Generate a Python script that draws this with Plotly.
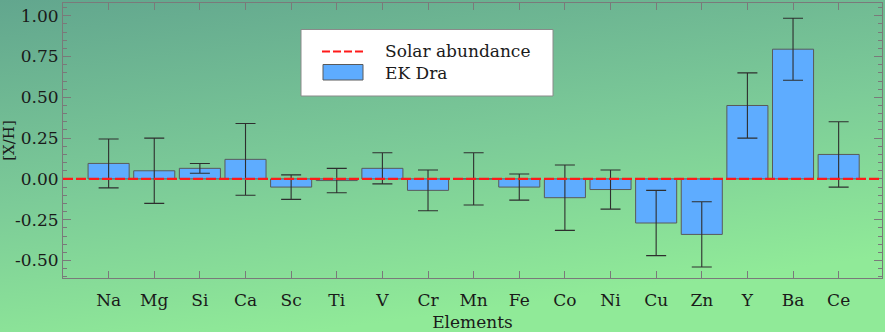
import base64
import plotly.graph_objects as go

# Abundance ratios [X/H] of EK Dra relative to the Sun
elements = ["Na", "Mg", "Si", "Ca", "Sc", "Ti", "V", "Cr", "Mn", "Fe",
            "Co", "Ni", "Cu", "Zn", "Y", "Ba", "Ce"]
abundance = [0.095, 0.05, 0.065, 0.12, -0.05, -0.01, 0.065, -0.07, 0.0, -0.05,
             -0.115, -0.065, -0.27, -0.34, 0.45, 0.795, 0.15]
abundance_err = [0.15, 0.20, 0.03, 0.22, 0.075, 0.075, 0.095, 0.125, 0.16, 0.08,
                 0.20, 0.12, 0.20, 0.20, 0.20, 0.19, 0.20]
solar_level = 0.0
y_ticks = [-0.50, -0.25, 0.00, 0.25, 0.50, 0.75, 1.00]

W, H = 885, 332
L, R, T, B = 63, 882, 3, 278  # plot area edges in pixels

FONT = "DejaVu Serif"
BAR_FILL = "#5eacff"
BAR_EDGE = "#5a5a5a"
AXIS_GREY = "#7a7a7a"


def px(xp):
    return (xp - L) / (R - L)


def py(yp):
    return (B - yp) / (B - T)


positions = list(range(len(elements)))

fig = go.Figure()
fig.add_trace(go.Bar(
    x=positions, y=abundance, width=0.9,
    marker=dict(color=BAR_FILL, line=dict(color=BAR_EDGE, width=1)),
    error_y=dict(type="data", array=abundance_err, color="#2e2e2e",
                 thickness=1.1, width=10),
    name="EK Dra", showlegend=False,
))

# Solar reference level
fig.add_shape(type="line", xref="x domain", yref="y", x0=0, x1=1,
              y0=solar_level, y1=solar_level,
              line=dict(color="#ff1a1a", width=2.2, dash="10px,3px"), layer="above")

# Legend box
fig.add_shape(type="rect", xref="paper", yref="paper",
              x0=px(301), x1=px(553), y0=py(96), y1=py(29.5),
              line=dict(color="#8a8a8a", width=1), fillcolor="white", layer="above")
fig.add_shape(type="line", xref="paper", yref="paper",
              x0=px(322), x1=px(363), y0=py(51.5), y1=py(51.5),
              line=dict(color="#ff1a1a", width=2, dash="8px,3px"), layer="above")
fig.add_shape(type="rect", xref="paper", yref="paper",
              x0=px(323), x1=px(363), y0=py(80), y1=py(64.5),
              line=dict(color=BAR_EDGE, width=1), fillcolor=BAR_FILL, layer="above")
for label, yc in [("Solar abundance", 51), ("EK Dra", 73)]:
    fig.add_annotation(text=label, xref="paper", yref="paper", x=px(383), y=py(yc),
                       xanchor="left", yanchor="middle", showarrow=False,
                       font=dict(family=FONT, size=17, color="#1a1a1a"))

# Green gradient page background
svg = f"""<svg xmlns='http://www.w3.org/2000/svg' width='{W}' height='{H}' viewBox='0 0 {W} {H}' preserveAspectRatio='none'>
<defs><linearGradient id='g' x1='0' y1='0' x2='0.35' y2='1'>
<stop offset='0' stop-color='#62a68e'/>
<stop offset='0.55' stop-color='#7ccb98'/>
<stop offset='1' stop-color='#90ea98'/>
</linearGradient></defs>
<rect width='{W}' height='{H}' fill='url(#g)'/></svg>"""
bg_uri = "data:image/svg+xml;base64," + base64.b64encode(svg.encode()).decode()
fig.add_layout_image(source=bg_uri, xref="paper", yref="paper",
                     x=-L / (R - L), y=1 + T / (B - T),
                     sizex=W / (R - L), sizey=H / (B - T),
                     xanchor="left", yanchor="top", sizing="stretch", layer="below")

fig.update_layout(
    width=W, height=H,
    margin=dict(l=L, r=W - R, t=T, b=H - B, pad=0, autoexpand=False),
    paper_bgcolor="rgba(0,0,0,0)", plot_bgcolor="white",
    font=dict(family=FONT, size=17, color="#1a1a1a"),
    showlegend=False, bargap=0.1,
)
fig.update_xaxes(
    automargin=False,
    range=[-1, 16.95], tickmode="array", tickvals=positions, ticktext=elements,
    ticks="inside", ticklen=7, tickcolor=AXIS_GREY, tickwidth=1,
    showline=True, linecolor=AXIS_GREY, linewidth=1, mirror="ticks",
    showgrid=False, zeroline=False, ticklabelstandoff=7,
    title=dict(text="Elements", standoff=8, font=dict(family=FONT, size=17)),
    tickfont=dict(family=FONT, size=17),
)
fig.update_yaxes(
    automargin=False,
    range=[-0.607, 1.078], tickmode="array", tickvals=y_ticks,
    ticktext=[f"{v:.2f}" for v in y_ticks],
    ticks="inside", ticklen=8, tickcolor=AXIS_GREY, tickwidth=1,
    minor=dict(ticks="inside", ticklen=4, dtick=0.05, tick0=0, tickcolor=AXIS_GREY),
    showline=True, linecolor=AXIS_GREY, linewidth=1, mirror="ticks",
    showgrid=False, zeroline=False,
    title=dict(text="[X/H]", standoff=6, font=dict(family=FONT, size=15)),
    tickfont=dict(family=FONT, size=17),
)

fig.write_html("out.html")
